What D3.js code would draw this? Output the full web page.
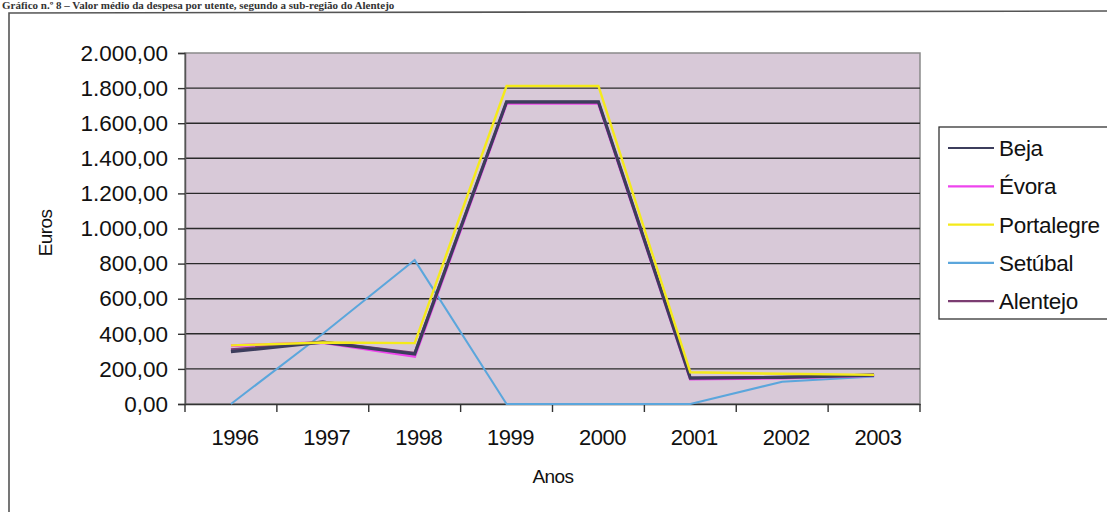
<!DOCTYPE html>
<html><head><meta charset="utf-8">
<script src="https://cdn.jsdelivr.net/npm/d3@7"></script>
<style>
html,body{margin:0;padding:0;background:#fff;}
svg{display:block;font-family:"Liberation Sans",Arial,sans-serif;}
</style></head>
<body>
<svg id="chart" width="1107" height="512"></svg>
<script>
const years = ["1996","1997","1998","1999","2000","2001","2002","2003"];
const seriesNames = ["Beja","Évora","Portalegre","Setúbal","Alentejo"];
const beja       = [298, 352, 285, 1722, 1722, 147, 152, 165];
const evora      = [332, 350, 272, 1714, 1714, 143, 148, 162];
const portalegre = [334, 350, 347, 1812, 1812, 181, 172, 166];
const setubal    = [0, 400, 820, 0, 0, 0, 127, 156];
const alentejo   = [310, 355, 290, 1720, 1720, 150, 153, 167];
const yTicks = [0,200,400,600,800,1000,1200,1400,1600,1800,2000];
const colors = {"Beja":"#3c3d5c","Évora":"#ee44ee","Portalegre":"#f4ea1a","Setúbal":"#5ba6dc","Alentejo":"#7b3d72"};
const widths = {"Beja":3.2,"Évora":3,"Portalegre":2.4,"Setúbal":2,"Alentejo":2.6};
const dataMap = {"Beja":beja,"Évora":evora,"Portalegre":portalegre,"Setúbal":setubal,"Alentejo":alentejo};

const svg = d3.select("#chart");
const L = 185, R = 920, T = 53, B = 404;

// title (mostly cropped in the reference scan)
svg.append("text").attr("x", 2).attr("y", 9)
  .attr("font-family", "'Liberation Serif',serif").attr("font-weight", "bold").attr("font-size", 11)
  .attr("fill", "#333")
  .text("Gráfico n.º 8 – Valor médio da despesa por utente, segundo a sub-região do Alentejo");

// outer frame
svg.append("path").attr("d", `M9,520 L9,13 L1120,11`).attr("fill","none").attr("stroke","#555").attr("stroke-width",1.6);

const x = d3.scaleBand().domain(years).range([L, R]).padding(0);
const y = d3.scaleLinear().domain([0, 2000]).range([B, T]);

svg.append("rect").attr("x", L).attr("y", T).attr("width", R - L).attr("height", B - T)
  .attr("fill", "#d8c9d8").attr("stroke", "#8a8a8a").attr("stroke-width", 1.5);

// gridlines
svg.append("g").selectAll("line").data(yTicks.filter(d => d > 0 && d < 2000)).join("line")
  .attr("x1", L).attr("x2", R).attr("y1", d => y(d)).attr("y2", d => y(d))
  .attr("stroke", "#2a2a2a").attr("stroke-width", 1.4);

// y axis
const yAxis = d3.axisLeft(y).tickValues(yTicks).tickSize(7).tickPadding(10)
  .tickFormat(d => d3.format(",.2f")(d).replace(/,/g, "#").replace(".", ",").replace(/#/g, "."));
const gy = svg.append("g").attr("transform", `translate(${L},0)`).call(yAxis);
gy.select(".domain").attr("stroke", "#555").attr("stroke-width", 1.5);
gy.selectAll(".tick line").attr("stroke", "#333").attr("stroke-width", 1.4);
gy.selectAll(".tick text").attr("font-size", 22.5).attr("fill", "#111")
  .attr("font-family", "'Liberation Sans',Arial,sans-serif").attr("letter-spacing", 0);

// x axis
const xAxis = d3.axisBottom(x).tickSize(0).tickPadding(25);
const gx = svg.append("g").attr("transform", `translate(0,${B})`).call(xAxis);
gx.select(".domain").attr("stroke", "#333").attr("stroke-width", 1.5);
gx.selectAll(".tick text").attr("font-size", 22).attr("fill", "#111").attr("dx", 4)
  .attr("font-family", "'Liberation Sans',Arial,sans-serif").attr("letter-spacing", -0.5);
// category separators
svg.append("g").selectAll("line").data(years.concat(["end"])).join("line")
  .attr("x1", (d, i) => L + i * x.bandwidth()).attr("x2", (d, i) => L + i * x.bandwidth())
  .attr("y1", B).attr("y2", B + 8).attr("stroke", "#333").attr("stroke-width", 1.4);

// axis titles
svg.append("text").attr("x", 553).attr("y", 483).attr("text-anchor", "middle")
  .attr("font-size", 19).attr("fill", "#111").attr("letter-spacing", -0.6).text("Anos");
svg.append("text").attr("transform", "translate(52,233) rotate(-90)").attr("text-anchor", "middle")
  .attr("font-size", 19).attr("fill", "#111").attr("letter-spacing", -0.6).text("Euros");

// lines
const line = d3.line().x((d, i) => x(years[i]) + x.bandwidth() / 2).y(d => y(d));
const drawOrder = ["Setúbal","Évora","Alentejo","Beja","Portalegre"];
svg.append("g").selectAll("path").data(drawOrder).join("path")
  .attr("d", n => line(dataMap[n])).attr("fill", "none")
  .attr("stroke", n => colors[n]).attr("stroke-width", n => widths[n])
  .attr("stroke-linejoin", "miter");

// legend
const lg = svg.append("g");
lg.append("rect").attr("x", 939).attr("y", 127).attr("width", 200).attr("height", 192)
  .attr("fill", "#fff").attr("stroke", "#333").attr("stroke-width", 1.3);
seriesNames.forEach((n, i) => {
  const cy = 148 + i * 38.3;
  lg.append("line").attr("x1", 948).attr("x2", 994).attr("y1", cy).attr("y2", cy)
    .attr("stroke", colors[n]).attr("stroke-width", 2.2);
  lg.append("text").attr("x", 999).attr("y", cy + 8).attr("font-size", 22.5).attr("fill", "#111")
    .attr("letter-spacing", -0.3).text(n);
});
</script>
</body></html>
